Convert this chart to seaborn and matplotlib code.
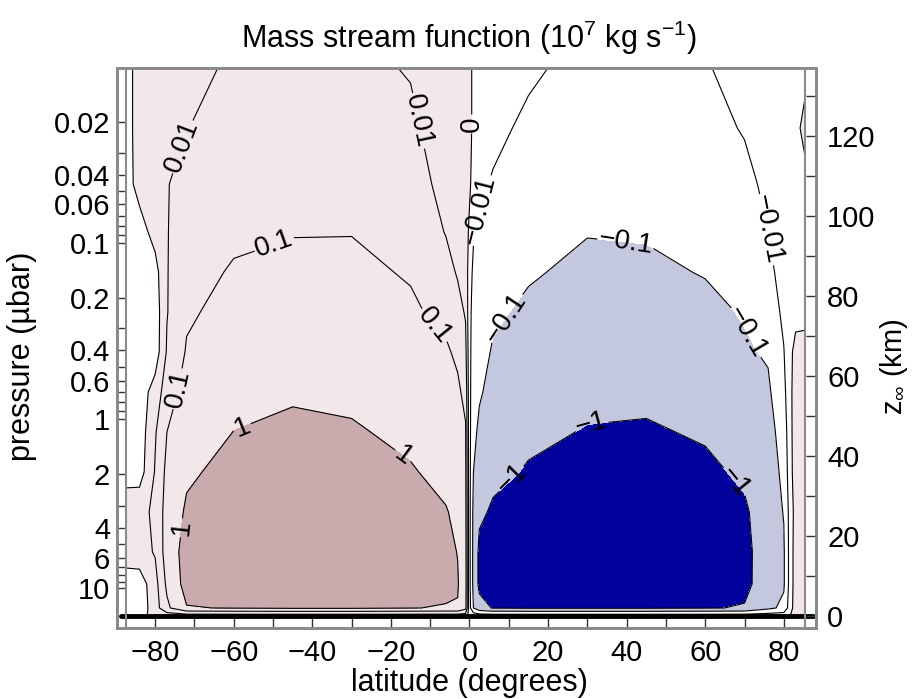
import numpy as np
import pandas as pd
import seaborn as sns
import matplotlib
matplotlib.use('Agg')
import matplotlib.pyplot as plt
from matplotlib.colors import ListedColormap, BoundaryNorm

# grid: latitude (deg) and log-pressure altitude (km)
lat = [-87.5, -84, -80, -77, -72, -60, -45, -30, -15, -6, -3, -1, 0,
       1, 2.5, 6, 15, 30, 45, 60, 70, 76, 80, 83, 85.5]
height = [0, 2, 8, 16, 26, 36, 46, 56, 66, 76, 86, 96, 108, 122, 137]

# mass stream function (1e7 kg/s), one profile per latitude, bottom to top
psi_columns = [
    [-0.0015, -0.002, -0.002, 0.002, 0.003, -0.0015, -0.003, -0.003, -0.004, -0.004, -0.003, -0.003, -0.002, -0.002, -0.002],
    [-0.0015, -0.004, -0.003, 0.004, 0.005, -0.002, -0.003, -0.003, -0.004, -0.004, -0.003, -0.002, 0.0015, 0.002, 0.002],
    [0.0015, 0.003, 0.004, 0.012, 0.015, 0.012, 0.008, 0.002, -0.003, -0.003, -0.0015, 0.0015, 0.004, 0.005, 0.004],
    [0.002, 0.063, 0.16, 0.3, 0.28, 0.18, 0.1, 0.035, 0.013, 0.009, 0.009, 0.009, 0.009, 0.005, 0.004],
    [0.002, 0.9, 2.2, 2.2, 1.3, 0.75, 0.42, 0.23, 0.12, 0.075, 0.05, 0.034, 0.021, 0.0095, 0.005],
    [0.002, 1.1, 2.8, 2.8, 2.5, 1.8, 1.02, 0.6, 0.35, 0.2, 0.12, 0.07, 0.04, 0.022, 0.014],
    [0.002, 1.3, 4.0, 4.0, 3.5, 2.5, 1.4, 0.82, 0.47, 0.27, 0.155, 0.093, 0.056, 0.032, 0.02],
    [0.002, 1.3, 3.5, 3.5, 3.2, 2.2, 1.2, 0.7, 0.42, 0.25, 0.15, 0.095, 0.056, 0.03, 0.018],
    [0.002, 1.05, 2.0, 2.0, 1.8, 1.15, 0.68, 0.4, 0.23, 0.135, 0.085, 0.052, 0.03, 0.016, 0.0085],
    [0.002, 0.9, 1.6, 1.6, 1.1, 0.63, 0.37, 0.21, 0.13, 0.06, 0.022, 0.009, 0.0045, 0.0025, 0.002],
    [0.002, 0.9, 1.15, 0.95, 0.7, 0.4, 0.25, 0.14, 0.07, 0.022, 0.008, 0.004, 0.003, 0.002, 0.0016],
    [0.002, 0.2, 0.25, 0.22, 0.18, 0.15, 0.12, 0.06, 0.02, 0.008, 0.005, 0.004, 0.003, 0.002, 0.0016],
    [-0.0015, -0.004, -0.005, -0.005, -0.005, -0.005, -0.005, -0.005, -0.005, -0.005, -0.004, -0.001, 0.0008, 0.0015, 0.0015],
    [-0.0015, -0.1, -0.2, -0.2, -0.18, -0.1, -0.06, -0.045, -0.035, -0.025, -0.015, -0.008, -0.003, -0.001, -0.001],
    [-0.002, -0.5, -1.6, -1.6, -0.7, -0.35, -0.15, -0.08, -0.05, -0.035, -0.022, -0.013, -0.007, -0.003, -0.002],
    [-0.002, -1.12, -2.3, -2.2, -1.3, -0.63, -0.33, -0.19, -0.12, -0.075, -0.042, -0.025, -0.012, -0.006, -0.003],
    [-0.002, -1.26, -2.8, -2.8, -2.0, -1.17, -0.69, -0.4, -0.234, -0.138, -0.083, -0.051, -0.03, -0.015, -0.007],
    [-0.002, -1.26, -3.16, -3.16, -2.5, -1.78, -1.1, -0.66, -0.4, -0.245, -0.151, -0.093, -0.053, -0.03, -0.02],
    [-0.002, -1.26, -3.55, -3.55, -2.8, -2.0, -1.2, -0.7, -0.42, -0.25, -0.145, -0.085, -0.055, -0.033, -0.02],
    [-0.002, -1.12, -2.63, -2.63, -2.09, -1.41, -0.83, -0.48, -0.28, -0.166, -0.09, -0.06, -0.035, -0.02, -0.012],
    [-0.002, -0.89, -1.58, -1.58, -1.26, -0.76, -0.447, -0.263, -0.13, -0.085, -0.05, -0.03, -0.018, -0.0085, -0.004],
    [-0.002, -0.17, -0.38, -0.4, -0.4, -0.32, -0.22, -0.14, -0.08, -0.04, -0.018, -0.01, -0.006, -0.004, -0.003],
    [-0.002, -0.06, -0.13, -0.13, -0.09, -0.06, -0.04, -0.02, -0.011, -0.006, -0.004, -0.003, -0.003, -0.003, -0.002],
    [0.0015, 0.003, 0.003, 0.003, 0.002, 0.004, 0.004, 0.003, 0.0015, -0.0015, -0.002, -0.002, -0.002, -0.0015, -0.0015],
    [0.0015, 0.004, 0.004, 0.004, 0.004, 0.005, 0.005, 0.004, 0.002, -0.0015, -0.002, -0.002, -0.0015, 0.002, -0.0015],
]

contour_levels = [-1, -0.1, -0.01, 0, 0.01, 0.1, 1]
level_labels = ['\u22121', '\u22120.1', '\u22120.01', '0', '0.01', '0.1', '1']

# pressure ticks (microbar) and where they sit on the altitude axis
p_ticks = [0.02, 0.04, 0.06, 0.1, 0.2, 0.4, 0.6, 1, 2, 4, 6, 10]
p_tick_labels = ['0.02', '0.04', '0.06', '0.1', '0.2', '0.4', '0.6', '1', '2', '4', '6', '10']
p_tick_z = [123.4, 110.25, 103, 93.25, 79.5, 66.5, 58.75, 49.25, 35.5, 22, 14.5, 7]
p_minor = [0.03, 0.05, 0.07, 0.08, 0.09, 0.3, 0.5, 0.7, 0.8, 0.9, 3, 5, 7, 8, 9]

z_ticks = [0, 20, 40, 60, 80, 100, 120]
lat_ticks = [-80, -60, -40, -20, 0, 20, 40, 60, 80]

# label spots (lat, z) near each labelled contour
label_spots = [(-72, 117), (-12, 124), (1.0, 123), (4.2, 101), (77.5, 97),
               (-49, 91), (-8.5, 73), (-75.5, 57), (40, 95), (10, 74), (70.5, 71),
               (-57, 45), (-17, 40), (-73, 22), (31, 48), (11, 34), (68, 34)]

fill_colors = ['#02029c', '#c4c8de', '#ffffff', '#f2e8ea', '#c9abae']


def slog(v):
    v = np.asarray(v, dtype=float)
    return np.sign(v) * np.log10(1 + np.abs(v) * 1000)


sns.set_style('ticks')
plt.rcParams['font.family'] = ['Liberation Sans', 'DejaVu Sans']
plt.rcParams['mathtext.fontset'] = 'custom'
plt.rcParams['mathtext.rm'] = 'Liberation Sans'
plt.rcParams['mathtext.it'] = 'Liberation Sans'
plt.rcParams['text.color'] = 'black'
plt.rcParams['xtick.labelcolor'] = 'black'
plt.rcParams['ytick.labelcolor'] = 'black'

df = pd.DataFrame(np.array(psi_columns).T, index=height, columns=lat)
field = slog(df.values)

fig = plt.figure(figsize=(9.13, 6.99), dpi=100)
ax = fig.add_axes([0.1282, 0.1016, 0.7656, 0.8011])

bounds = [-10, float(slog(-1)), float(slog(-0.1)), 0, float(slog(1)), 10]
cmap = ListedColormap(fill_colors)
norm = BoundaryNorm(bounds, cmap.N)
ax.contourf(df.columns, df.index, field, levels=bounds, cmap=cmap, norm=norm)

line_levels = [float(x) for x in slog(contour_levels)]
cs = ax.contour(df.columns, df.index, field, levels=line_levels, colors='k',
                linewidths=0.8, linestyles='solid')
fmt = dict(zip(cs.levels, level_labels))
ax.clabel(cs, fmt=fmt, fontsize=20, inline=True, inline_spacing=2, manual=label_spots)

ax.axhline(0, xmin=0.005, xmax=0.995, color='k', lw=3.5)
ax.axvline(lat[0], color='#8a8a8a', lw=1.5)
ax.axvline(lat[-1], color='#8a8a8a', lw=1.5)

ax.set_xlim(-89.7, 88.2)
ax.set_ylim(-3, 137)

for s in ax.spines.values():
    s.set_color('#8a8a8a')
    s.set_linewidth(2)

ax.set_xticks(lat_ticks)
ax.set_xticklabels(['\u221280', '\u221260', '\u221240', '\u221220', '0', '20', '40', '60', '80'])
ax.set_xticks(np.arange(-80, 90, 10), minor=True)
ax.set_yticks(p_tick_z)
ax.set_yticklabels(p_tick_labels)
logp = np.log10(p_ticks)
ax.set_yticks(np.interp(np.log10(p_minor), logp, p_tick_z), minor=True)
ax.tick_params(which='both', direction='in', length=7, width=1, color='#333333',
               top=True, labelsize=21, pad=5)
ax.tick_params(axis='x', which='both', pad=8)

ax2 = ax.twinx()
ax2.set_ylim(ax.get_ylim())
ax2.set_yticks(z_ticks)
ax2.set_yticks(np.arange(0, 140, 10), minor=True)
ax2.tick_params(which='both', direction='in', length=7, width=1, color='#333333',
                labelsize=21, pad=8)
for s in ax2.spines.values():
    s.set_color('#8a8a8a')
    s.set_linewidth(2)

fig.text(0.513, 0.946, r'Mass stream function (10$^7$ kg s$^{-1}$)', fontsize=22,
         ha='center', va='center')
fig.text(0.514, 0.023, 'latitude (degrees)', fontsize=22, ha='center', va='center')
fig.text(0.024, 0.49, 'pressure (\u00b5bar)', fontsize=22, rotation=90, ha='center', va='center')
fig.text(0.962, 0.476, r'z$_\infty$ (km)', fontsize=21, rotation=90, ha='left', va='center')

fig.savefig('out.png', dpi=100)
